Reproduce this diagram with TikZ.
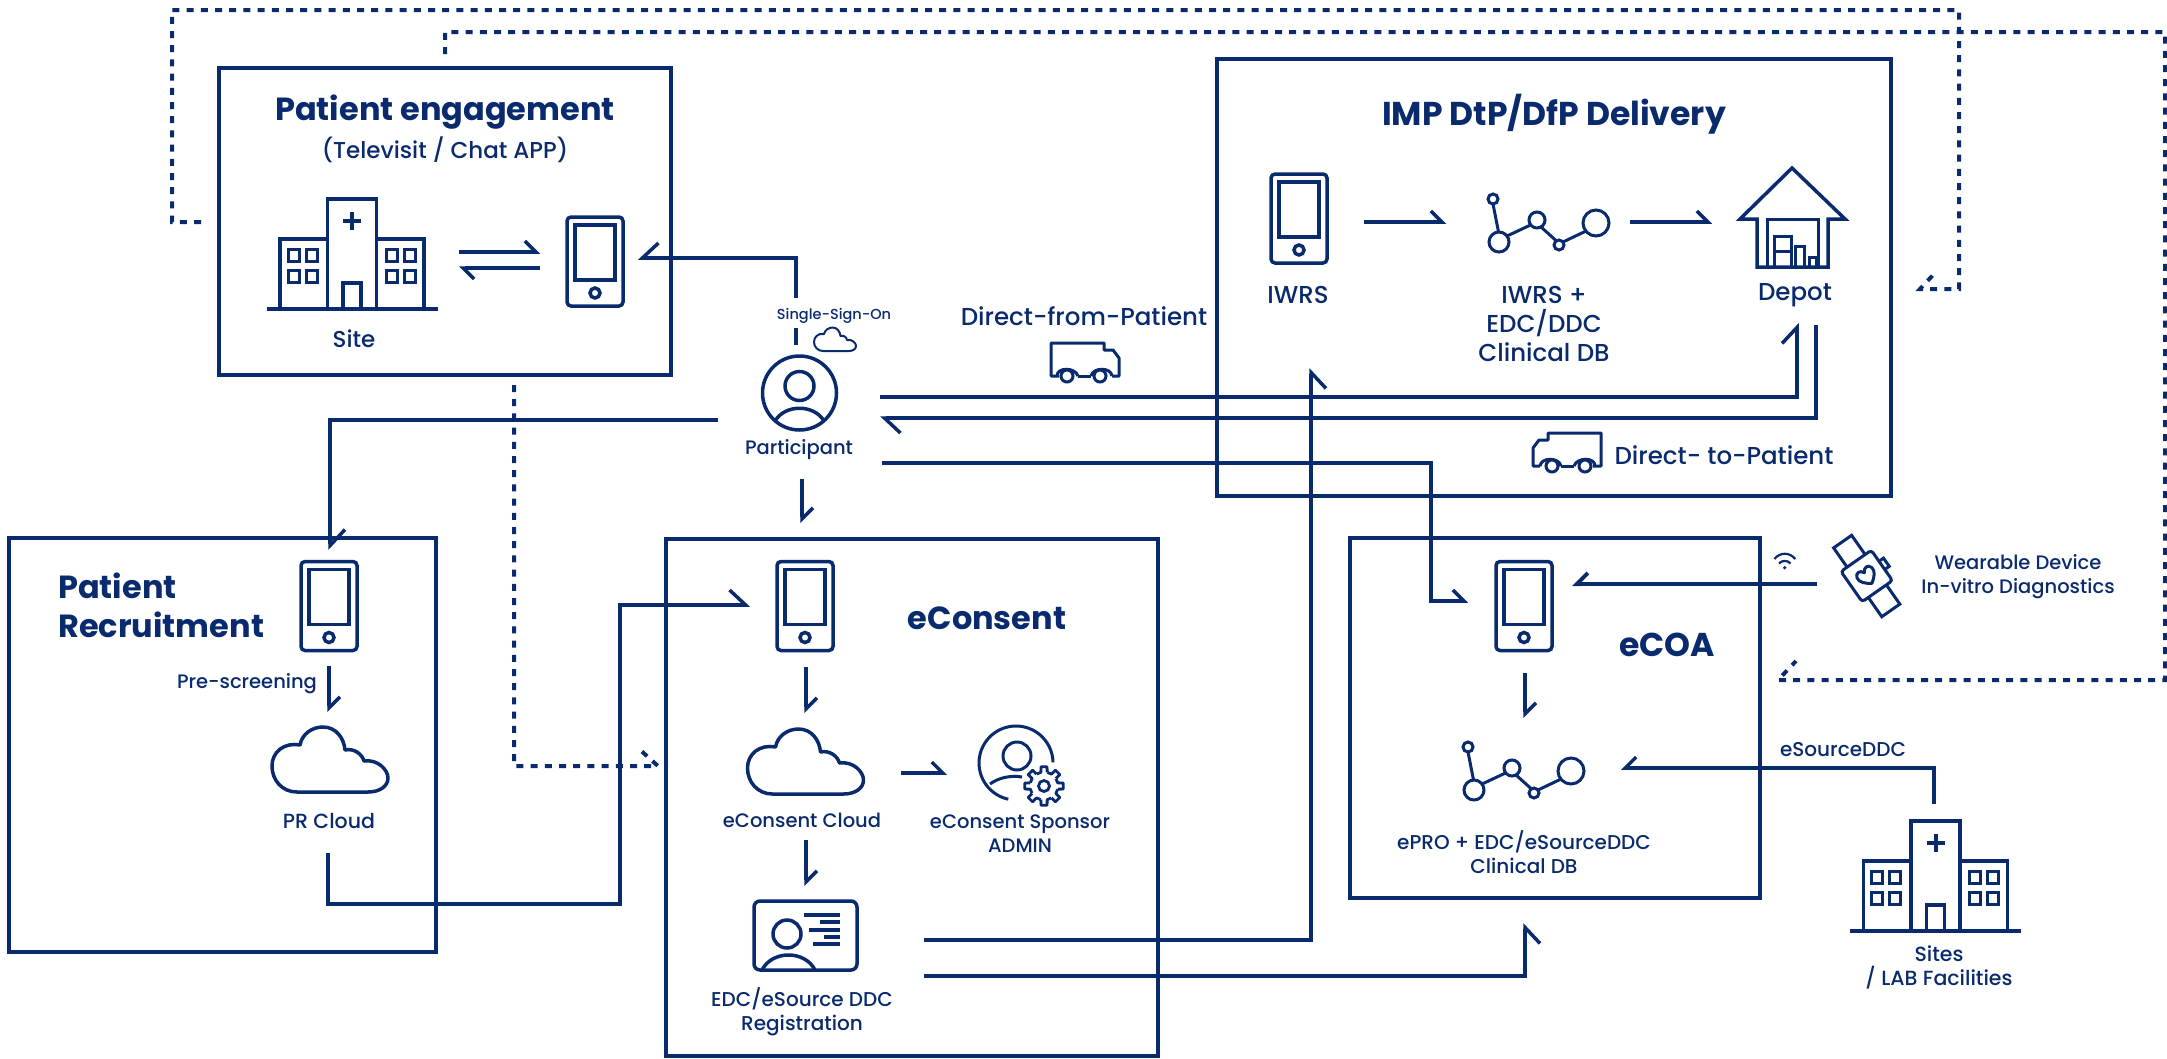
\documentclass[tikz,border=0pt]{standalone}
\usepackage{fontspec}
\setmainfont{Poppins Medium}
\newfontfamily\titlefont{Poppins}[UprightFont=* Bold]
\usetikzlibrary{arrows.meta}
\definecolor{navy}{HTML}{0A2A6E}
\tikzset{
  x=1pt,y=-1pt,
  frame/.style={draw=navy,line width=4pt},
  ink/.style={draw=navy,line width=3.5pt,line join=miter},
  thin ink/.style={draw=navy,line width=3pt},
  conn/.style={draw=navy,line width=3.5pt},
  dashy/.style={draw=navy,line width=4pt,dash pattern=on 7pt off 7.2pt},
  hbigl/.style={conn,-{Straight Barb[left,length=16pt,width=30pt]}},
  hbigr/.style={conn,-{Straight Barb[right,length=16pt,width=30pt]}},
  hsml/.style={conn,-{Straight Barb[left,length=11pt,width=22pt]}},
  hsmr/.style={conn,-{Straight Barb[right,length=11pt,width=22pt]}},
  lab/.style={text=navy,inner sep=0pt,align=center,font=\fontsize{19.5}{24}\selectfont},
  biglab/.style={text=navy,inner sep=0pt,align=center,font=\fontsize{24.5}{29}\selectfont},
  tinylab/.style={text=navy,inner sep=0pt,font=\fontsize{14.5}{16}\selectfont},
  ttl/.style={text=navy,inner sep=0pt,align=center,font=\titlefont\fontsize{32}{39}\selectfont},
  pics/phone/.style={code={
    \draw[ink,rounded corners=4pt] (-28,-44.5) rectangle (28,44.5);
    \draw[ink] (-20,-36.5) rectangle (20,18.5);
    \draw[ink] (0,31.5) circle[radius=5pt];
  }},
  pics/hospital/.style={code={
    \draw[ink,line width=4.5pt] (-85.5,0) -- (85.5,0);
    \draw[ink] (-24.5,0) -- (-24.5,-110) -- (24.5,-110) -- (24.5,0);
    \draw[ink] (-24.5,-70) -- (-72,-70) -- (-72,0);
    \draw[ink] (24.5,-70) -- (72,-70) -- (72,0);
    \draw[ink] (-9,0) -- (-9,-26) -- (9,-26) -- (9,0);
    \draw[ink,line width=4pt] (-9,-88) -- (9,-88) (0,-97) -- (0,-79);
    \foreach \wx in {-64,-46,34,52}{\foreach \wy in {-60,-39}{
      \draw[ink,line width=3pt] (\wx,\wy) rectangle ++(11,12);}}
  }},
  pics/network/.style={code={
    \draw[thin ink] (0,0) circle[radius=10pt];
    \draw[thin ink] (-6,-43) circle[radius=5pt];
    \draw[thin ink] (38,-22) circle[radius=8pt];
    \draw[thin ink] (60,3) circle[radius=5pt];
    \draw[thin ink] (97,-19) circle[radius=13pt];
    \draw[thin ink] (-6,-38) -- (-0.5,-10);
    \draw[thin ink] (8,-6) -- (31.5,-17);
    \draw[thin ink] (42,-15) -- (57.5,-1);
    \draw[thin ink] (64,0) -- (87,-11);
  }},
  pics/cloud/.style={code={
    \draw[ink,line join=round] (-33,0) .. controls (-48,0) and (-58,-12) .. (-58,-26)
      .. controls (-58,-40) and (-46,-50) .. (-30,-47)
      .. controls (-28,-58) and (-18,-65) .. (-7,-65)
      .. controls (6,-65) and (14,-54) .. (15,-42)
      .. controls (24,-44) and (32,-38) .. (34,-31)
      .. controls (48,-33) and (58,-22) .. (58,-14)
      .. controls (58,-6) and (50,0) .. (38,0) -- cycle;
  }},
  pics/minicloud/.style={code={
    \draw[ink,line width=2pt,line join=round] (-12,0) .. controls (-17,0) and (-21,-4) .. (-21,-9)
      .. controls (-21,-14) and (-17,-18) .. (-11,-17)
      .. controls (-10,-21) and (-6,-23.5) .. (-2.5,-23.5)
      .. controls (2,-23.5) and (5,-19.5) .. (5.5,-15)
      .. controls (8.5,-16) and (11.5,-14) .. (12,-11)
      .. controls (17,-12) and (21,-8) .. (21,-5)
      .. controls (21,-2) and (18,0) .. (14,0) -- cycle;
  }},
  pics/truck/.style={code={
    \draw[ink,line width=3pt,line join=round] (-26,33) -- (-34,33) -- (-34,0) -- (19,0) -- (19,7) -- (28,7) -- (34,15) -- (34,33) -- (27,33);
    \draw[ink,line width=3pt] (-7,33) -- (6,33);
    \draw[ink,line width=3pt] (-28,33) .. controls (-28,24) and (-10,24) .. (-7,33);
    \draw[ink,line width=3pt] (6,33) .. controls (8,24) and (26,24) .. (27,33);
    \draw[ink,line width=3pt] (-18,33) circle[radius=6pt];
    \draw[ink,line width=3pt] (15,33) circle[radius=6pt];
  }},
  pics/truckleft/.style={code={
    \draw[ink,line width=3pt,line join=round] (26,33) -- (34,33) -- (34,0) -- (-19,0) -- (-19,7) -- (-28,7) -- (-34,15) -- (-34,33) -- (-27,33);
    \draw[ink,line width=3pt] (7,33) -- (-6,33);
    \draw[ink,line width=3pt] (28,33) .. controls (28,24) and (10,24) .. (7,33);
    \draw[ink,line width=3pt] (-6,33) .. controls (-8,24) and (-26,24) .. (-27,33);
    \draw[ink,line width=3pt] (18,33) circle[radius=6pt];
    \draw[ink,line width=3pt] (-15,33) circle[radius=6pt];
  }},
}
\begin{document}
\begin{tikzpicture}
\useasboundingbox (0,0) rectangle (2167,1058);
% frames
\draw[frame] (219,68) rectangle (671,375);
\draw[frame] (1217,59) rectangle (1891,496);
\draw[frame] (9,538) rectangle (436,952);
\draw[frame] (666,539) rectangle (1158,1056);
\draw[frame] (1350,538) rectangle (1760,898);
% titles
\node[ttl] (tpe) at (445,112.5) {Patient engagement};
\node[lab,font=\fontsize{23}{24}\selectfont] (tpes) at (445,149.5) {(Televisit / Chat APP)};
\node[ttl,font=\titlefont\fontsize{33}{39}\selectfont] (timp) at (1554,114.5) {IMP DtP/DfP Delivery};
\node[ttl,align=left,anchor=west] (tpr) at (58,605.5) {Patient\\Recruitment};
\node[ttl] (tec) at (987,618) {eConsent};
\node[ttl,font=\titlefont\fontsize{33}{39}\selectfont] (tcoa) at (1667,645) {eCOA};
% phones
\pic (ph1) at (595,261.5) {phone};
\pic (ph2) at (1299,218.5) {phone};
\pic (ph3) at (329,606) {phone};
\pic (ph4) at (805,606) {phone};
\pic (ph5) at (1524,606) {phone};
% hospitals
\pic (h1) at (352,309) {hospital};
\pic (h2) at (1935.5,931) {hospital};
% networks
\pic (n1) at (1499,242) {network};
\pic (n2) at (1474,790) {network};
% clouds
\pic (cl1) at (330,792) {cloud};
\pic (cl2) at (805.5,794) {cloud};
\pic (cl3) at (835,351) {minicloud};
% trucks
\pic (tr1) at (1085,343) {truck};
\pic (tr2) at (1567,433) {truckleft};
% participant
\draw[ink] (799.5,393) circle[radius=37pt];
\draw[ink] (799.5,386) circle[radius=14.5pt];
\draw[ink] (775,421) .. controls (785,404) and (814,404) .. (824,421);
% depot
\draw[ink,line join=miter] (1757,267) -- (1757,219) -- (1740,219) -- (1792,168) -- (1845,219) -- (1828,219) -- (1828,267) -- cycle;
\draw[ink,line width=3pt] (1767,267) -- (1767,219) -- (1818,219) -- (1818,267);
\draw[ink,line width=3pt] (1774,236) rectangle (1791,267);
\draw[ink,line width=3pt] (1774,251) -- (1791,251);
\draw[ink,line width=3pt] (1795,246) rectangle (1804,267);
\draw[ink,line width=3pt] (1809,257) rectangle (1816,267);
% admin icon
\draw[ink,line width=3pt,domain=1:258,samples=50,smooth] plot ({1016+37*cos(\x)},{763-37*sin(\x)});
\draw[ink,line width=3pt] (1017,756) circle[radius=14pt];
\draw[ink,line width=3pt] (990,784) .. controls (998,778) and (1010,775) .. (1022,777);
\begin{scope}[shift={(1044,786)}]
\foreach \a in {0,45,...,315}{
  \draw[ink,line width=2.8pt,line join=round] (\a-31:14) -- (\a-13:14) -- (\a-9:19.5) -- (\a+9:19.5) -- (\a+13:14);
}
\draw[ink,line width=2.8pt] (0,0) circle[radius=5.5pt];
\end{scope}
% id card
\draw[ink,rounded corners=6pt] (754,901) rectangle (857,970);
\draw[ink] (787,934) circle[radius=14pt];
\draw[ink] (762,970) .. controls (772,950) and (805,950) .. (815,970);
\draw[ink] (804,915) -- (840,915);
\draw[ink] (820,922) -- (840,922);
\draw[ink] (809,930) -- (840,930);
\draw[ink] (824,937) -- (840,937);
\draw[ink] (813,944) -- (840,944);
% watch
\begin{scope}[shift={(1866.7,576)},rotate=35]
\draw[ink,line width=3pt,rounded corners=3pt] (-18.5,-18.5) rectangle (18.5,18.5);
\draw[ink,line width=3pt] (-11,-18.5) -- (-11,-42) -- (11,-42) -- (11,-18.5);
\draw[ink,line width=3pt] (-11,18.5) -- (-11,42) -- (11,42) -- (11,18.5);
\draw[ink,line width=3pt] (18.5,-5) -- (24,-5) -- (24,5) -- (18.5,5);
\draw[ink,line width=3pt,line join=round] (0,9) .. controls (-6,5) and (-10,1) .. (-9,-4) .. controls (-8,-9) and (-2,-9) .. (0,-4) .. controls (2,-9) and (8,-9) .. (9,-4) .. controls (10,1) and (6,5) .. (0,9) -- cycle;
\end{scope}
% wifi
\draw[ink,line width=2.2pt] (1774.3,559) .. controls (1780,552) and (1789.5,552) .. (1795.3,559);
\draw[ink,line width=2.2pt] (1779,563.5) .. controls (1782,560) and (1787.5,560) .. (1790.5,563.5);
\fill[navy] (1784.7,567.7) circle[radius=1.8pt];
% labels
\node[lab,font=\fontsize{23}{24}\selectfont] (lsite) at (354,339) {Site};
\node[tinylab] (lsso) at (834,315.5) {Single-Sign-On};
\node[lab] (lpart) at (799,450) {Participant};
\node[biglab] (ldfp) at (1084,316) {Direct-from-Patient};
\node[biglab] (ldtp) at (1724,455) {Direct- to-Patient};
\node[biglab] (liw) at (1298,294.5) {IWRS};
\node[biglab] (liwp) at (1544,324) {IWRS +\\EDC/DDC\\Clinical DB};
\node[biglab] (ldep) at (1795,295) {Depot};
\node[lab] (lpre) at (247,684) {Pre-screening};
\node[lab,font=\fontsize{20.5}{24}\selectfont] (lprc) at (329,821) {PR Cloud};
\node[lab] (lecc) at (802,820) {eConsent Cloud};
\node[lab] (lads) at (1020,833.5) {eConsent Sponsor\\ADMIN};
\node[lab,font=\fontsize{20}{24}\selectfont] (lreg) at (802,1012) {EDC/eSource DDC\\Registration};
\node[lab,font=\fontsize{20}{24}\selectfont] (lepro) at (1524,852) {ePRO + EDC/eSourceDDC\\Clinical DB};
\node[lab] (lwear) at (2018,576.5) {Wearable Device\\In-vitro Diagnostics};
\node[lab,font=\fontsize{20}{24}\selectfont] (lsrc) at (1843,750) {eSourceDDC};
\node[lab,font=\fontsize{20.5}{24}\selectfont] (lsites) at (1939,967) {Sites\\/ LAB Facilities};
% connector ends
\coordinate (a1) at (796,298); \coordinate (a1b) at (638,258);
\coordinate (a1c) at (796,328); \coordinate (a1d) at (796,345);
\coordinate (a2) at (718,420); \coordinate (a2b) at (330,550);
\coordinate (a3) at (802,479); \coordinate (a3b) at (802,523);
\coordinate (a4) at (880,397); \coordinate (a4b) at (1797,323);
\coordinate (a5) at (1816,325); \coordinate (a5b) at (880,418);
\coordinate (a6) at (882,463); \coordinate (a6b) at (1468,601); \coordinate (a6k) at (1431,463);
\coordinate (a7) at (329,666); \coordinate (a7b) at (329,712);
\coordinate (a8) at (328,853); \coordinate (a8k) at (328,904); \coordinate (a8m) at (620,904); \coordinate (a8b) at (750,605);
\coordinate (a9) at (806,667); \coordinate (a9b) at (806,713);
\coordinate (a10) at (806,840); \coordinate (a10b) at (806,886);
\coordinate (a11) at (901,773); \coordinate (a11b) at (947,773);
\coordinate (a12) at (924,940); \coordinate (a12b) at (1311,368);
\coordinate (a13) at (924,976); \coordinate (a13b) at (1525,923);
\coordinate (a14) at (1817,584); \coordinate (a14b) at (1572,584);
\coordinate (a15) at (1525,673); \coordinate (a15b) at (1525,718);
\coordinate (a16) at (1934,804); \coordinate (a16b) at (1621,768);
\coordinate (a17) at (1364,222); \coordinate (a17b) at (1446,222);
\coordinate (a18) at (1630,222); \coordinate (a18b) at (1712,222);
\coordinate (a19) at (459,252); \coordinate (a19b) at (540,252);
\coordinate (a20) at (540,268); \coordinate (a20b) at (459,268);
% solid connectors
\draw[hbigr] (a1) |- (a1b);
\draw[conn] (a1c) -- (a1d);
\draw[hbigl] (a2) -| (a2b);
\draw[hsml] (a3) -- (a3b);
\draw[hbigl] (a4) -| (a4b);
\draw[hbigl] (a5) |- (a5b);
\draw[hsml] (a6) -- (a6k) |- (a6b);
\draw[hsml] (a7) -- (a7b);
\draw[hbigl] (a8) -- (a8k) -- (a8m) |- (a8b);
\draw[hsml] (a9) -- (a9b);
\draw[hsml] (a10) -- (a10b);
\draw[hsml] (a11) -- (a11b);
\draw[hbigr] (a12) -| (a12b);
\draw[hbigr] (a13) -| (a13b);
\draw[hsmr,line width=4pt] (a14) -- (a14b);
\draw[hsml] (a15) -- (a15b);
\draw[hsmr] (a16) |- (a16b);
\draw[hsml] (a17) -- (a17b);
\draw[hsml] (a18) -- (a18b);
\draw[hsml] (a19) -- (a19b);
\draw[hsml] (a20) -- (a20b);
% dashed connectors
\coordinate (da) at (201,222); \coordinate (da1) at (172,222); \coordinate (da2) at (172,10);
\coordinate (da3) at (1959,10); \coordinate (da4) at (1959,289); \coordinate (da5) at (1920,289); \coordinate (da6) at (1933,275);
\draw[dashy] (da) -- (da1) -- (da2) -- (da3) -- (da4) -- (da5) -- (da6);
\coordinate (db) at (445,54); \coordinate (db1) at (445,32); \coordinate (db2) at (2165,32);
\coordinate (db3) at (2165,680); \coordinate (db4) at (1778,680); \coordinate (db5) at (1796,661);
\draw[dashy] (db) -- (db1) -- (db2) -- (db3) -- (db4) -- (db5);
\coordinate (dc) at (514,385); \coordinate (dc1) at (514,766); \coordinate (dc2) at (658,766); \coordinate (dc3) at (638,748);
\draw[dashy] (dc) -- (dc1) -- (dc2) -- (dc3);
\end{tikzpicture}
\end{document}
